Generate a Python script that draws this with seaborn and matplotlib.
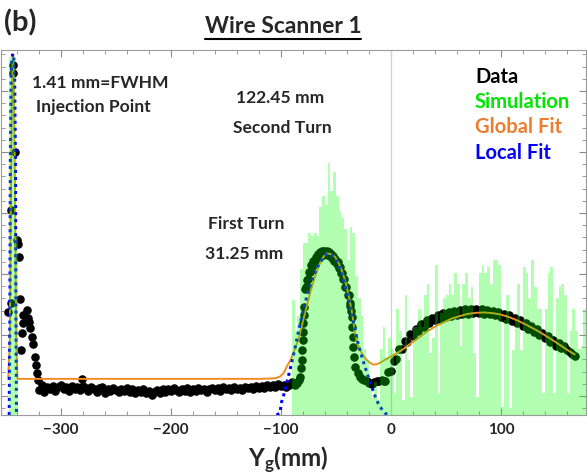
import numpy as np
import seaborn as sns
import matplotlib.pyplot as plt
from matplotlib.ticker import MultipleLocator
from matplotlib.lines import Line2D

# ---- data (y in arbitrary units, 0..1 of the frame) ----
# measured data: injection spike
inj_x = [-343.6, -343.6, -341.8, -345.5, -340.0, -339.0, -338.0, -348.0, -345.5, -337.3,
         -336.4, -335.5, -334.5, -334.5, -331.0, -330.0, -329.0, -328.0, -326.4, -325.5,
         -323.6, -322.7, -321.8, -320.9]
inj_y = [0.959, 0.937, 0.720, 0.562, 0.479, 0.468, 0.433, 0.282, 0.307, 0.318,
         0.178, 0.225, 0.274, 0.252, 0.288, 0.266, 0.255, 0.238, 0.214, 0.195,
         0.159, 0.137, 0.115, 0.096]

# measured data: flat baseline, one point every 2.5 mm from -320 to -95
base_x = np.arange(-320, -94, 2.5)
base_y = [0.068, 0.082, 0.064, 0.078, 0.071, 0.080, 0.066, 0.076, 0.083, 0.070,
          0.078, 0.067, 0.080, 0.072, 0.077, 0.069, 0.079, 0.074, 0.066, 0.078,
          0.071, 0.064, 0.073, 0.077, 0.060, 0.071, 0.065, 0.074, 0.068, 0.062,
          0.072, 0.066, 0.075, 0.063, 0.070, 0.061, 0.068, 0.064, 0.071, 0.060,
          0.066, 0.056, 0.063, 0.068, 0.061, 0.070, 0.064, 0.072, 0.066, 0.075,
          0.068, 0.062, 0.071, 0.066, 0.073, 0.063, 0.070, 0.065, 0.074, 0.068,
          0.072, 0.064, 0.071, 0.075, 0.068, 0.073, 0.066, 0.076, 0.070, 0.074,
          0.068, 0.077, 0.071, 0.075, 0.069, 0.078, 0.073, 0.077, 0.071, 0.080,
          0.075, 0.079, 0.073, 0.082, 0.077, 0.081, 0.076, 0.084, 0.079, 0.083,
          0.078]
outlier_x = [-281.0]
outlier_y = [0.098]

# measured data: first turn
turn1_x = [-92.5, -90.0, -87.5, -85.0, -83.5, -82.7, -81.8, -81.2, -80.6, -80.3,
           -80.0, -79.7, -79.4, -79.1,
           -78.5, -77.5, -76.5, -75.5, -74.5, -73.5, -72.5, -71.5, -70.5, -69.5,
           -68.5, -67.5, -66.5, -65.5, -64.5, -63.5, -62.5, -61.5, -60.5, -59.5,
           -58.5, -57.5, -56.5, -55.5, -54.5, -53.5, -52.5, -51.5, -50.5, -49.5,
           -48.5, -47.5, -46.5, -45.5, -44.5, -43.5, -42.5, -41.5, -40.5, -39.5,
           -38.5, -37.5, -36.8, -36.2,
           -35.7, -35.4, -34.8, -34.2, -33.9, -32.7, -30.3,
           -28.0, -26.7, -24.5, -22.1, -20.0, -17.6, -15.5, -13.0, -10.5, -8.5, -6.0]
turn1_y = [0.082, 0.090, 0.082, 0.088, 0.096, 0.105, 0.128, 0.151, 0.178, 0.205,
           0.228, 0.251, 0.274, 0.297,
           0.345, 0.352, 0.370, 0.372, 0.392, 0.392, 0.410, 0.406, 0.422, 0.416,
           0.432, 0.424, 0.440, 0.430, 0.446, 0.436, 0.449, 0.438, 0.450, 0.440,
           0.449, 0.438, 0.447, 0.435, 0.442, 0.430, 0.436, 0.423, 0.428, 0.414,
           0.418, 0.403, 0.405, 0.390, 0.390, 0.372, 0.372, 0.352, 0.350, 0.330,
           0.328, 0.308, 0.300, 0.285,
           0.269, 0.242, 0.215, 0.187, 0.160, 0.132, 0.114,
           0.104, 0.100, 0.096, 0.093, 0.089, 0.084, 0.090, 0.093, 0.092, 0.096, 0.094]

# measured data: second turn (broad hump)
turn2_x = [-5, -2.5, 0, 2.5, 5, 7.5, 10, 12.5, 15, 17.5, 20, 22.5, 25, 27.5,
           30, 32.5, 35, 37.5, 40, 42.5, 45, 47.5, 50, 52.5, 55, 57.5, 60, 62.5,
           65, 67.5, 70, 72.5, 75, 77.5, 80, 82.5, 85, 87.5, 90, 92.5, 95, 97.5,
           100, 102.5, 105, 107.5, 110, 112.5, 115, 117.5, 120, 122.5, 125, 127.5,
           130, 132.5, 135, 137.5, 140, 142.5, 145, 147.5, 150, 152.5, 155, 157.5,
           160, 162.5, 165, 167]
turn2_y = [0.092, 0.118, 0.120, 0.149, 0.154, 0.180, 0.182, 0.203, 0.200, 0.221,
           0.217, 0.236, 0.231, 0.249, 0.242, 0.259, 0.251, 0.267, 0.259, 0.274,
           0.264, 0.279, 0.269, 0.283, 0.272, 0.286, 0.275, 0.288, 0.277, 0.290,
           0.278, 0.291, 0.279, 0.291, 0.279, 0.290, 0.278, 0.289, 0.276, 0.286,
           0.273, 0.283, 0.269, 0.278, 0.264, 0.273, 0.258, 0.266, 0.251, 0.259,
           0.244, 0.252, 0.236, 0.244, 0.228, 0.235, 0.219, 0.226, 0.210, 0.217,
           0.200, 0.206, 0.189, 0.196, 0.184, 0.190, 0.178, 0.172, 0.167, 0.163]

# global fit (orange)
glob_x = [-348, -346.5, -345.5, -344.5, -343.6, -342.7, -341.7, -340.7, -339.5, -300,
          -200, -120, -110, -105, -101, -97.5, -94.8, -91.5, -88.8, -86.5,
          -84.3, -81.2, -78.2, -73.6, -69.1, -64.5, -61, -58.5, -55, -50.9,
          -47.5, -44.8, -42.5, -40.3, -38, -35.8, -32.7, -30.5, -28.2, -25,
          -22.1, -19, -16.1, -13, -10, -5.5, 0, 5, 10, 17.5,
          25, 32.5, 40, 47.5, 55, 62.5, 70, 77.5, 85, 92.5,
          100, 107.5, 115, 122.5, 130, 137.5, 145, 152.5, 158, 163, 167]
glob_y = [0.099, 0.2, 0.6, 0.9, 0.985, 0.9, 0.6, 0.2, 0.099, 0.099,
          0.099, 0.099, 0.100, 0.101, 0.105, 0.115, 0.132, 0.150, 0.169, 0.187,
          0.205, 0.242, 0.279, 0.333, 0.379, 0.416, 0.435, 0.443, 0.441, 0.434,
          0.416, 0.397, 0.376, 0.352, 0.320, 0.288, 0.224, 0.195, 0.178, 0.162,
          0.151, 0.143, 0.138, 0.139, 0.143, 0.151, 0.160, 0.169, 0.178, 0.195,
          0.211, 0.228, 0.242, 0.253, 0.264, 0.271, 0.277, 0.280, 0.281, 0.279,
          0.275, 0.268, 0.259, 0.248, 0.236, 0.223, 0.209, 0.194, 0.183, 0.173, 0.166]

# local fits (blue dotted)
loc_inj_x = [-347, -346.4, -346, -345.3, -344.5, -343.7, -342.9, -342.1, -341.4, -341, -340.4]
loc_inj_y = [0.0, 0.3, 0.7, 0.93, 0.98, 0.99, 0.98, 0.93, 0.7, 0.3, 0.0]
loc_t1_x = [-104, -101, -99.4, -97, -94.8, -92.5, -90.3, -88, -85.7, -83.5,
            -81.2, -78.9, -76.6, -73.7, -70.9, -67.7, -64.5, -61.5, -58.5, -54.7,
            -50.9, -47.8, -44.8, -42, -39.1, -36.8, -34.5, -32.2, -30, -26.8,
            -23.6, -20.5, -17.5, -14.6, -11.8, -8.6, -5.5, -2]
loc_t1_y = [0.0, 0.005, 0.036, 0.06, 0.088, 0.115, 0.142, 0.173, 0.205, 0.237,
            0.268, 0.297, 0.323, 0.352, 0.378, 0.401, 0.419, 0.433, 0.441, 0.440,
            0.430, 0.413, 0.389, 0.358, 0.323, 0.292, 0.260, 0.228, 0.197, 0.163,
            0.132, 0.103, 0.077, 0.053, 0.033, 0.017, 0.005, 0.0]

# simulation histogram (2.5 mm bins)
sim_inj_edges = [-347.0, -344.5, -342.0, -339.5]
sim_inj_h = [0.98, 0.98, 0.49]
sim_edges = np.arange(-90, 180, 2.5).tolist()
sim_h = [0.315, 0.23, 0.27, 0.40, 0.47, 0.47, 0.50, 0.49, 0.50, 0.49,
         0.57, 0.60, 0.575, 0.69, 0.615, 0.665, 0.60, 0.56, 0.54, 0.51,
         0.425, 0.515, 0.50, 0.38, 0.32, 0.27, 0.18, 0.15, 0.07, 0.05,
         0.09, 0.04, 0.18, 0.24, 0.16, 0.21,
         0.18, 0.06, 0.29, 0.23, 0.04, 0.33, 0.15, 0.05, 0.24, 0.24,
         0.29, 0.24, 0.33, 0.36, 0.17, 0.21, 0.41, 0.06, 0.28, 0.32,
         0.33, 0.36, 0.33, 0.39, 0.36, 0.19, 0.36, 0.39, 0.32, 0.35,
         0.17, 0.05, 0.39, 0.41, 0.39,
         0.406, 0.36, 0.424, 0.424, 0.41, 0.023, 0.26, 0.33, 0.02, 0.178,
         0.26, 0.36, 0.178, 0.406, 0.39, 0.32, 0.424, 0.35, 0.29, 0.29,
         0.06, 0.29, 0.39, 0.406, 0.06, 0.32, 0.35, 0.36, 0.33, 0.06,
         0.23, 0.29, 0.23, 0.18, 0.19, 0.29]

x_ticks = [-300, -200, -100, 0, 100]
x_ticklabels = ['\u2212300', '\u2212200', '\u2212100', '0', '100']

# ---- style ----
sns.set_style("ticks")
plt.rcParams['font.family'] = ['Lato', 'DejaVu Sans']
plt.rcParams['mathtext.fontset'] = 'custom'
plt.rcParams['mathtext.rm'] = 'Lato:bold'
plt.rcParams['mathtext.bf'] = 'Lato:bold'

W, H = 587, 476
fig = plt.figure(figsize=(W / 100, H / 100), dpi=100)
ax = fig.add_axes([1 / W, 61 / H, 585 / W, 365 / H])


def fpos(px, py):
    return px / W, 1 - py / H


# data dots
data_x = np.concatenate([inj_x, base_x, outlier_x, turn1_x, turn2_x])
data_y = np.concatenate([inj_y, base_y, outlier_y, turn1_y, turn2_y])
sns.scatterplot(x=data_x, y=data_y, color='black', s=38, linewidth=0, ax=ax, zorder=2)

# fits
sns.lineplot(x=glob_x, y=glob_y, estimator=None, sort=False, color='#f48a24',
             linewidth=1.4, ax=ax, zorder=3)
for lx, ly in [(loc_inj_x, loc_inj_y), (loc_t1_x, loc_t1_y)]:
    sns.lineplot(x=lx, y=ly, estimator=None, sort=False, color='#0000ff',
                 linewidth=2.2, linestyle=(0, (1, 1.3)), ax=ax, zorder=4)

# simulation histogram on top, semi transparent
inj_centers = [e + 1.25 for e in sim_inj_edges[:-1]]
sns.histplot(x=inj_centers, weights=sim_inj_h, bins=sim_inj_edges, color='#00ff00',
             alpha=0.3, linewidth=0, ax=ax, zorder=5)
sim_centers = [e + 1.25 for e in sim_edges[:-1]]
sns.histplot(x=sim_centers, weights=sim_h, bins=sim_edges, color='#00ff00',
             alpha=0.3, linewidth=0, ax=ax, zorder=5)

ax.axvline(0, color='#d0d0d0', linewidth=0.9, zorder=1)

ax.set_xlim(-354.5, 177.3)
ax.set_ylim(0, 1)
ax.set_xlabel('')
ax.set_ylabel('')

ax.set_xticks(x_ticks, labels=x_ticklabels, fontweight='bold', fontsize=11)
ax.xaxis.set_minor_locator(MultipleLocator(20))
ax.yaxis.set_major_locator(MultipleLocator(0.1671, offset=0.052))
ax.yaxis.set_minor_locator(MultipleLocator(0.03342, offset=0.052))
ax.tick_params(which='both', direction='in', top=True, right=True, left=True,
               bottom=True, color='#8a8a8a', labelleft=False, pad=6)
ax.tick_params(which='major', length=5, width=0.8)
ax.tick_params(which='minor', length=3, width=0.6)
for s in ax.spines.values():
    s.set_color('#9a9a9a')
    s.set_linewidth(0.8)

# texts
fig.text(*fpos(4, 31), '(b)', fontsize=21, fontweight='bold', va='baseline')
title = fig.text(*fpos(283, 33), 'Wire Scanner 1', fontsize=16.5, fontweight='bold',
                 ha='center', va='baseline')
fig.text(*fpos(288, 467), r'$\mathbf{Y_g}$(mm)', fontsize=17.5, fontweight='bold',
         ha='center', va='baseline')

notes = [('1.41 mm=FWHM', 32, 88), ('Injection Point', 36, 112),
         ('122.45 mm', 236, 103), ('Second Turn', 233, 133),
         ('First Turn', 208, 229), ('31.25 mm', 205, 259)]
for txt, px, py in notes:
    fig.text(*fpos(px, py), txt, fontsize=12.6, fontweight='bold', va='baseline')

legend_items = [('Data', 'black', 83), ('Simulation', '#00e600', 108),
                ('Global Fit', '#ed7d31', 133), ('Local Fit', '#0000ff', 159)]
for txt, col, py in legend_items:
    fig.text(*fpos(475, py), txt, fontsize=14.5, fontweight='bold', color=col, va='baseline')

# underline the title
fig.canvas.draw()
bb = title.get_window_extent().transformed(fig.transFigure.inverted())
fig.add_artist(Line2D([bb.x0, bb.x1], [1 - 38.5 / H] * 2, color='black', linewidth=1.5,
                      transform=fig.transFigure))

fig.savefig('out.png', dpi=100)
